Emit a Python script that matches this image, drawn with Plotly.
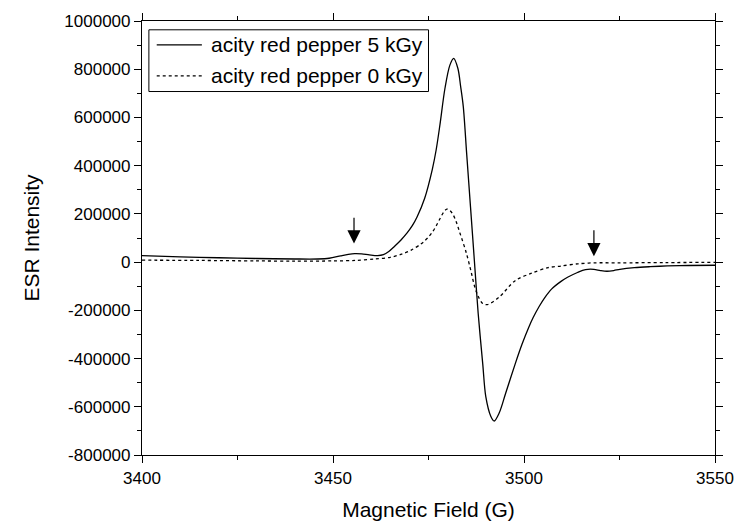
import plotly.graph_objects as go

# ---- data ----
field_5kGy = [3400, 3410, 3420, 3430, 3440, 3446, 3449, 3452, 3454, 3455.7, 3457.5, 3459.5, 3461.7,
              3463.2, 3464.6, 3466, 3467.8, 3469.4, 3470.8, 3472, 3474, 3476, 3477, 3478, 3479.3,
              3480.6, 3481.6, 3482.7, 3483.4, 3484.1, 3485, 3486, 3487, 3488, 3489.2, 3490, 3491.3,
              3492.2, 3493.5, 3495.2, 3497.7, 3499.5, 3501.2, 3502.4, 3504, 3505.4, 3507.2, 3509.7,
              3511.4, 3514, 3516.1, 3518.3, 3520, 3521.7, 3523.5, 3525.1, 3528.9, 3533, 3537.5,
              3543, 3550]
esr_5kGy = [27000, 22000, 18000, 15000, 13000, 13000, 16000, 26000, 32000, 35000, 34000, 30000, 27000,
            31000, 44000, 64000, 92000, 121000, 152000, 187000, 265000, 385000, 465000, 570000, 720000,
            817000, 845000, 803000, 730000, 646000, 448000, 228000, 8000, -212000, -422000, -558000, -639000,
            -659000, -626000, -544000, -422000, -340000, -272000, -230000, -183000, -148000, -112000, -80000,
            -63000, -43000, -31000, -30000, -35000, -38000, -35000, -30000, -23000, -19000, -16000,
            -14000, -13000]

field_0kGy = [3400, 3415, 3430, 3440, 3450, 3456, 3461, 3465, 3468, 3470.5, 3473, 3474, 3475, 3476,
              3477, 3478, 3479, 3479.8, 3480.6, 3481.4, 3482.3, 3483.2, 3484.9, 3486.2, 3487,
              3487.9, 3489.2, 3490.4, 3493.5, 3497.7, 3502, 3506.3, 3509.8, 3514.1, 3518.4, 3525,
              3537, 3550]
esr_0kGy = [8000, 7000, 5000, 4000, 5000, 7000, 13000, 20000, 33000, 50000, 75000, 88000, 104000, 124000,
            150000, 180000, 208000, 220000, 214000, 198000, 165000, 122000, 38000, -43000, -97000,
            -138000, -172000, -176000, -145000, -77000, -46000, -23000, -16000, -7000, -3000, -3000,
            -2000, -1000]

series_names = ["acity red pepper 5 kGy", "acity red pepper 0 kGy"]

x_tick_vals = [3400, 3450, 3500, 3550]
x_minor_vals = [3425, 3475, 3525]
y_tick_vals = [-800000, -600000, -400000, -200000, 0, 200000, 400000, 600000, 800000, 1000000]
y_tick_text = ["-800000", "-600000", "-400000", "-200000", "0", "200000", "400000", "600000",
               "800000", "1000000"]
y_minor_vals = [-700000, -500000, -300000, -100000, 100000, 300000, 500000, 700000, 900000]

# arrows marking the weak side peaks: (field, tail value, tip value)
arrow_field = [3455.5, 3518.3]
arrow_tail = [190000, 138000]
arrow_tip = [77000, 24000]

FONT = "Liberation Sans, Arial, sans-serif"

fig = go.Figure()
fig.add_trace(go.Scatter(x=field_5kGy, y=esr_5kGy, mode="lines", name=series_names[0],
                         showlegend=False,
                         line=dict(color="black", width=1.3, shape="spline", smoothing=0.9)))
fig.add_trace(go.Scatter(x=field_0kGy, y=esr_0kGy, mode="lines", name=series_names[1],
                         showlegend=False,
                         line=dict(color="black", width=1.3, dash="3px,3px", shape="spline", smoothing=0.9)))

for xa, yt, yh in zip(arrow_field, arrow_tail, arrow_tip):
    fig.add_annotation(x=xa, y=yh, ax=xa, ay=yt, xref="x", yref="y", axref="x", ayref="y",
                       showarrow=True, arrowhead=2, arrowsize=2.2, arrowwidth=1.2,
                       arrowcolor="black", text="")

# ---- legend box (paper coordinates) ----
leg_x0, leg_x1, leg_y0, leg_y1 = 0.012, 0.50, 0.8375, 0.9797
leg_line_x = [0.0257, 0.1045]
leg_row_y = [0.9451, 0.8736]
leg_text_x = 0.1164
leg_dash = ["solid", "3px,3px"]
fig.add_shape(type="rect", xref="paper", yref="paper", x0=leg_x0, x1=leg_x1, y0=leg_y0, y1=leg_y1,
              line=dict(color="black", width=1), fillcolor="white", layer="above")
for name, ry, dash in zip(series_names, leg_row_y, leg_dash):
    fig.add_shape(type="line", xref="paper", yref="paper", x0=leg_line_x[0], x1=leg_line_x[1],
                  y0=ry, y1=ry, line=dict(color="black", width=1.3, dash=dash), layer="above")
    fig.add_annotation(x=leg_text_x, y=ry, xref="paper", yref="paper", text=name, showarrow=False,
                       xanchor="left", yanchor="middle",
                       font=dict(family=FONT, size=21, color="black"))

axis_common = dict(showline=True, linecolor="black", linewidth=1.2, mirror="ticks",
                   ticks="outside", ticklen=7, tickwidth=1.2, tickcolor="black",
                   showgrid=False, zeroline=False,
                   tickfont=dict(family=FONT, size=17, color="black"))

fig.update_layout(
    width=746, height=529,
    margin=dict(l=142, r=20, t=20, b=66),
    paper_bgcolor="white", plot_bgcolor="white",
    font=dict(family=FONT, color="black"),
    xaxis=dict(range=[3400, 3550], tickmode="array", tickvals=x_tick_vals,
               ticktext=[str(v) for v in x_tick_vals],
               minor=dict(tickvals=x_minor_vals, ticks="outside", ticklen=4, tickwidth=1.2,
                          tickcolor="black", showgrid=False),
               title=dict(text="Magnetic Field (G)", font=dict(family=FONT, size=21), standoff=15),
               **axis_common),
    yaxis=dict(range=[-800000, 1000000], tickmode="array", tickvals=y_tick_vals,
               ticktext=y_tick_text,
               minor=dict(tickvals=y_minor_vals, ticks="outside", ticklen=4, tickwidth=1.2,
                          tickcolor="black", showgrid=False),
               title=dict(text="ESR Intensity", font=dict(family=FONT, size=21), standoff=18),
               **axis_common),
    showlegend=False,
)

fig.write_html("out.html")
